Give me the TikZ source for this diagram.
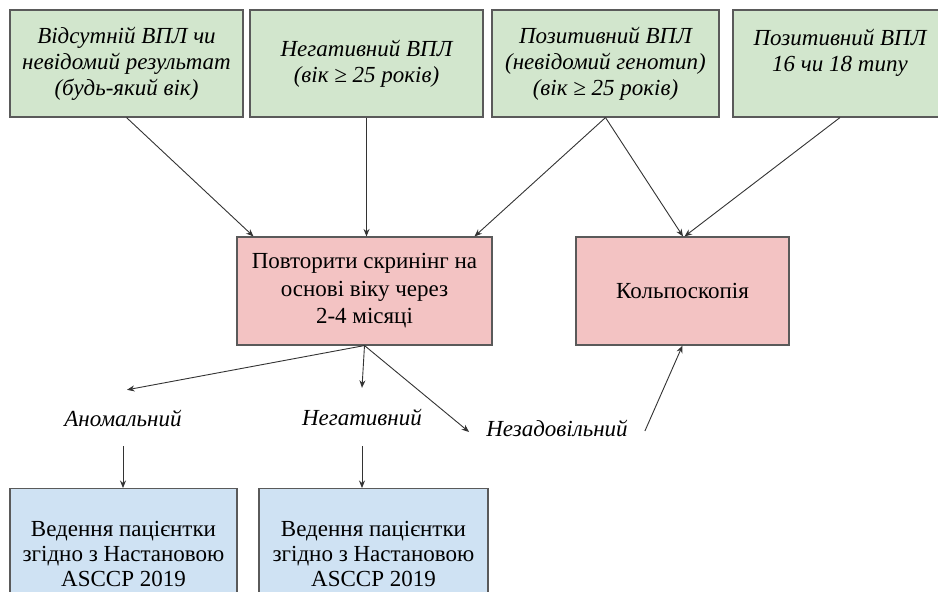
\documentclass[tikz,border=0pt]{standalone}
\usepackage{fontspec}
\setmainfont{Liberation Serif}
\usetikzlibrary{arrows.meta}

\definecolor{boxgreen}{HTML}{D2E6CD}
\definecolor{boxpink}{HTML}{F3C3C3}
\definecolor{boxblue}{HTML}{CFE2F3}
\definecolor{edgegray}{HTML}{5A5A5A}
\definecolor{linegray}{HTML}{333333}

\tikzset{
  box/.style={draw=edgegray, line width=1.1pt, inner sep=3pt, align=center,
    font=\fontsize{23}{26.5}\selectfont},
  inbox/.style={box, fill=boxgreen, font=\fontsize{23}{26}\selectfont\itshape,
    minimum height=107pt},
  stepbox/.style={box, fill=boxpink, minimum height=108pt,
    font=\fontsize{23}{27.5}\selectfont},
  outbox/.style={box, fill=boxblue, minimum height=130pt,
    font=\fontsize{23}{25}\selectfont},
  result/.style={font=\fontsize{23}{26}\selectfont\itshape, inner sep=0pt},
  flow/.style={draw=linegray, line width=0.9pt,
    -{Stealth[length=7.5pt,width=6pt]}},
}

\begin{document}
\begin{tikzpicture}[x=1pt,y=-1pt]
\useasboundingbox (0,0) rectangle (938,592);
\clip (0,0) rectangle (938,592);

% input categories
\node[inbox, minimum width=233pt] (absent) at (126.5,63.5)
  {Відсутній ВПЛ чи\\невідомий результат\\(будь-який вік)};
\node[inbox, minimum width=233pt] (neg) at (366.5,63.5)
  {Негативний ВПЛ\\(вік ≥ 25 років)};
\node[inbox, minimum width=227pt] (posunk) at (605.5,63.5)
  {Позитивний ВПЛ\\(невідомий генотип)\\(вік ≥ 25 років)};
\node[inbox, minimum width=214pt] (pos1618) at (840,63.5)
  {Позитивний ВПЛ\\16 чи 18 типу\\\mbox{}};

% actions
\node[stepbox, minimum width=255pt] (repeat) at (364.5,291)
  {Повторити скринінг на\\основі віку через\\2-4 місяці};
\node[stepbox, minimum width=213pt] (colpo) at (682.5,291) {Кольпоскопія};

% results of the repeated screening
\node[result, minimum height=56pt] (abn) at (123,418) {Аномальний};
\node[result, minimum height=58pt] (negres) at (362,417) {Негативний};
\node[result, inner xsep=17pt] (unsat) at (557,428) {Незадовільний};

% management
\node[outbox, minimum width=227pt, anchor=north] (mgmtA) at (123.5,488)
  {Ведення пацієнтки\\згідно з Настановою\\ASCCP 2019};
\node[outbox, minimum width=229pt, anchor=north] (mgmtB) at (373.5,488)
  {Ведення пацієнтки\\згідно з Настановою\\ASCCP 2019};

% connectors
\draw[flow] (absent.south) -- ([xshift=-111pt]repeat.north);
\draw[flow] (neg.south) -- (neg.south |- repeat.north);
\draw[flow] (posunk.south) -- ([xshift=110pt]repeat.north);
\draw[flow] (posunk.south) -- ([xshift=0.5pt]colpo.north);
\draw[flow] (pos1618.south) -- ([xshift=2pt]colpo.north);
\draw[flow] (repeat.south) -- ([xshift=4pt]abn.north);
\draw[flow] (repeat.south) -- (negres.north);
\draw[flow] (repeat.south) -- ([yshift=-4pt]unsat.west);
\draw[flow] ([yshift=-3pt]unsat.east) -- (colpo.south);
\draw[flow] (abn.south) -- (abn.south |- mgmtA.north);
\draw[flow] (negres.south) -- (negres.south |- mgmtB.north);
\end{tikzpicture}
\end{document}
